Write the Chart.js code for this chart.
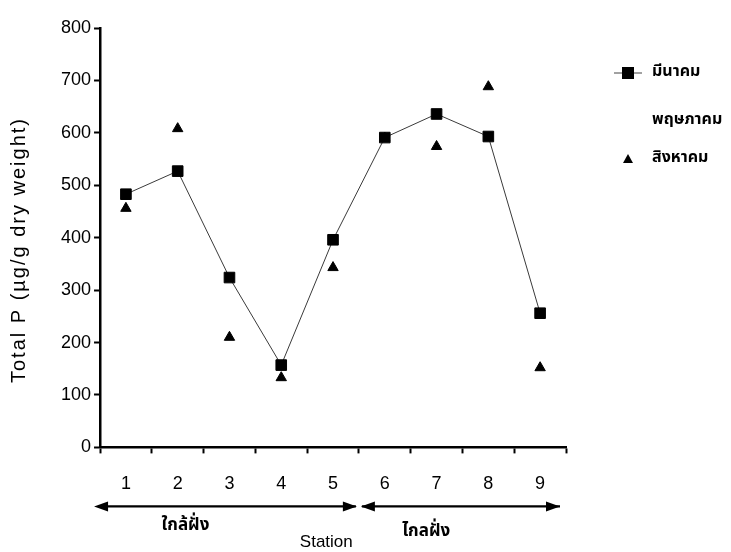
<!DOCTYPE html>
<html lang="th">
<head>
<meta charset="UTF-8">
<title>Total P by station</title>
<script src="https://cdn.jsdelivr.net/npm/chart.js"></script>
<style>
  html, body { margin: 0; padding: 0; background: #ffffff; }
  #wrap { position: relative; width: 731px; height: 552px; }
</style>
</head>
<body>
<div id="wrap"><canvas id="chart" width="731" height="552"></canvas></div>

<script>
  // stations along the x axis
  const stations = ['1', '2', '3', '4', '5', '6', '7', '8', '9'];

  // Total P (ug/g dry weight)
  const march = [483, 527, 324, 157, 396, 591, 636, 593, 256];   // มีนาคม
  const may = [];                                                  // พฤษภาคม (no marks visible)
  const august = [456, 608, 210, 133, 343, 590, 574, 688, 152];  // สิงหาคม

  const seriesNames = ['มีนาคม', 'พฤษภาคม', 'สิงหาคม'];
  const yTicks = [0, 100, 200, 300, 400, 500, 600, 700, 800];
  const yTitle = 'Total P (µg/g dry weight)';

  const thaiFont = '"Noto Sans Thai", "Noto Sans", "DejaVu Sans", sans-serif';
  const latinFont = '"Liberation Sans", Arial, sans-serif';

  // y title, arrows, zone labels and the legend on the right
  const extras = {
    id: 'extras',
    afterDraw(chart) {
      const ctx = chart.ctx;
      const x = chart.scales.x;
      const area = chart.chartArea;
      const split = x.getPixelForValue(4.5);
      const ay = area.bottom + 59;

      ctx.save();
      // y axis title, set wide like the original
      ctx.translate(19, 250);
      ctx.rotate(-Math.PI / 2);
      ctx.letterSpacing = '2px';
      ctx.font = '20px ' + latinFont;
      ctx.fillStyle = '#000';
      ctx.textAlign = 'center';
      ctx.textBaseline = 'middle';
      ctx.fillText(yTitle, 0, 0);
      ctx.restore();

      function head(px, py, dir) {
        ctx.beginPath();
        ctx.moveTo(px, py);
        ctx.lineTo(px - dir * 14, py - 5);
        ctx.lineTo(px - dir * 14, py + 5);
        ctx.closePath();
        ctx.fill();
      }

      ctx.save();
      ctx.strokeStyle = '#000';
      ctx.fillStyle = '#000';
      ctx.lineWidth = 2.4;
      ctx.beginPath();
      ctx.moveTo(area.left - 2, ay);
      ctx.lineTo(split - 3, ay);
      ctx.moveTo(split + 3, ay);
      ctx.lineTo(area.right - 6, ay);
      ctx.stroke();
      head(area.left - 6, ay, -1);
      head(split - 2, ay, 1);
      head(split + 2, ay, -1);
      head(area.right - 6, ay, 1);

      ctx.textAlign = 'center';
      ctx.textBaseline = 'middle';
      ctx.font = 'bold 17px ' + thaiFont;
      ctx.fillText('ใกล้ฝั่ง', x.getPixelForValue(1.15), ay + 20);
      ctx.fillText('ไกลฝั่ง', x.getPixelForValue(5.8), ay + 26);
      ctx.font = '17px ' + latinFont;
      ctx.fillText('Station', x.getPixelForValue(3.87), ay + 36);

      // legend
      const lx = 628, tx = 652;
      const rows = [73, 121, 159];
      ctx.textAlign = 'left';
      ctx.font = 'bold 16px ' + thaiFont;
      seriesNames.forEach((name, i) => {
        ctx.fillText(name, tx, rows[i]);
      });
      ctx.strokeStyle = '#444';
      ctx.lineWidth = 1;
      ctx.beginPath();
      ctx.moveTo(lx - 14, rows[0]);
      ctx.lineTo(lx + 14, rows[0]);
      ctx.stroke();
      ctx.fillRect(lx - 6, rows[0] - 6, 12, 12);
      ctx.beginPath();
      ctx.moveTo(lx, rows[2] - 5);
      ctx.lineTo(lx + 5, rows[2] + 4);
      ctx.lineTo(lx - 5, rows[2] + 4);
      ctx.closePath();
      ctx.fill();
      ctx.restore();
    }
  };

  new Chart(document.getElementById('chart'), {
    type: 'line',
    data: {
      labels: stations,
      datasets: [{
        label: seriesNames[0],
        data: march,
        borderColor: '#3a3a3a',
        borderWidth: 1,
        pointStyle: 'rect',
        pointRadius: 7.5,
        pointBackgroundColor: '#000',
        pointBorderColor: '#000',
        order: 1
      }, {
        label: seriesNames[1],
        data: may,
        showLine: false,
        pointRadius: 0
      }, {
        label: seriesNames[2],
        data: august,
        showLine: false,
        pointStyle: 'triangle',
        pointRadius: 6,
        pointBackgroundColor: '#000',
        pointBorderColor: '#000',
        order: 2
      }]
    },
    options: {
      responsive: false,
      animation: false,
      layout: { padding: { top: 28, right: 165, bottom: 37, left: 58 } },
      plugins: {
        legend: { display: false },
        tooltip: { enabled: false }
      },
      scales: {
        x: {
          offset: true,
          grid: { drawOnChartArea: false, color: '#000', tickLength: 6, tickWidth: 2, offset: true },
          border: { color: '#000', width: 2.5 },
          ticks: {
            color: '#000',
            padding: 20,
            maxRotation: 0,
            font: { family: latinFont, size: 18 }
          }
        },
        y: {
          min: 0,
          max: 800,
          afterBuildTicks(axis) { axis.ticks = yTicks.map(v => ({ value: v })); },
          grid: { drawOnChartArea: false, color: '#000', tickLength: 6, tickWidth: 2 },
          border: { color: '#000', width: 2.5 },
          ticks: {
            color: '#000',
            padding: 3,
            font: { family: latinFont, size: 18 }
          }
        }
      }
    },
    plugins: [extras]
  });
</script>
</body>
</html>
